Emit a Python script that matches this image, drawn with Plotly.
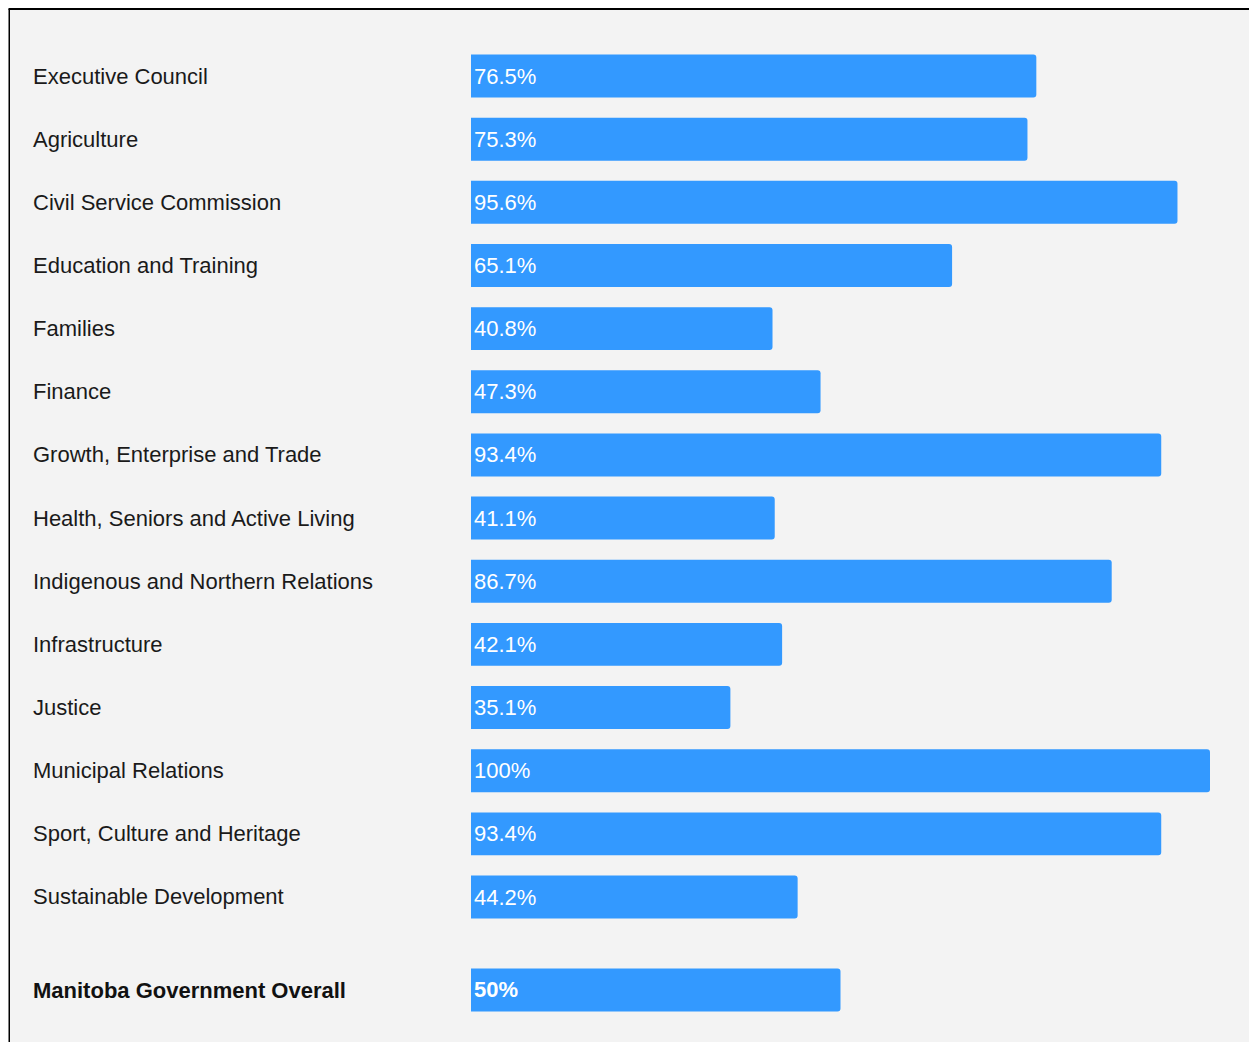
import plotly.graph_objects as go

departments = [
    "Executive Council",
    "Agriculture",
    "Civil Service Commission",
    "Education and Training",
    "Families",
    "Finance",
    "Growth, Enterprise and Trade",
    "Health, Seniors and Active Living",
    "Indigenous and Northern Relations",
    "Infrastructure",
    "Justice",
    "Municipal Relations",
    "Sport, Culture and Heritage",
    "Sustainable Development",
]
dept_values = [76.5, 75.3, 95.6, 65.1, 40.8, 47.3, 93.4, 41.1, 86.7, 42.1, 35.1, 100, 93.4, 44.2]

overall_label = ["Manitoba Government Overall"]
overall_values = [50]

# the page body adds an 8px margin, so the figure is drawn 8px in from the window edge
PAGE = 8
W, H = 1257 - PAGE, 1042 - PAGE
BAR = "#3399ff"
BG = "#f3f3f3"
FONT = "Liberation Sans, Arial, sans-serif"


def px(x):
    return (x - PAGE) / W


def py(y):
    return 1 - (y - PAGE) / H


def fmt(v):
    return f"{v:g}%"


fig = go.Figure()
fig.add_trace(go.Bar(
    x=dept_values, y=departments, orientation="h",
    marker=dict(color=BAR, cornerradius=3, line=dict(width=0)),
    width=0.68,
    text=[fmt(v) for v in dept_values],
    textposition="inside", insidetextanchor="start", textangle=0,
    textfont=dict(color="white", size=22, family=FONT),
    xaxis="x", yaxis="y", hoverinfo="skip",
))
fig.add_trace(go.Bar(
    x=overall_values, y=overall_label, orientation="h",
    marker=dict(color=BAR, cornerradius=3, line=dict(width=0)),
    width=0.68,
    text=["<b>" + fmt(v) + "</b>" for v in overall_values],
    textposition="inside", insidetextanchor="start", textangle=0,
    textfont=dict(color="white", size=22, family=FONT),
    xaxis="x2", yaxis="y2", hoverinfo="skip",
))

xdom = [px(471), px(1210)]
pitch = 63.15
top1 = 76 - pitch / 2
bot1 = 897 + pitch / 2
top2 = 990 - pitch / 2
bot2 = 990 + pitch / 2

axcommon = dict(showgrid=False, zeroline=False, showticklabels=False, showline=False, fixedrange=True)

annotations = []
for name in departments:
    annotations.append(dict(x=px(31), xref="paper", y=name, yref="y", text=name,
                            xanchor="left", yanchor="middle", showarrow=False,
                            font=dict(size=22, color="#1a1a1a", family=FONT)))
for name in overall_label:
    annotations.append(dict(x=px(31), xref="paper", y=name, yref="y2", text="<b>" + name + "</b>",
                            xanchor="left", yanchor="middle", showarrow=False,
                            font=dict(size=22, color="#111111", family=FONT)))

fig.update_layout(
    width=W, height=H,
    margin=dict(l=0, r=0, t=0, b=0),
    paper_bgcolor="white", plot_bgcolor="rgba(0,0,0,0)",
    showlegend=False,
    xaxis=dict(domain=xdom, range=[0, 100], anchor="y", **axcommon),
    yaxis=dict(domain=[py(bot1), py(top1)], range=[13.5, -0.5], autorange=False,
               anchor="x", categoryorder="array", categoryarray=departments, **axcommon),
    xaxis2=dict(domain=xdom, range=[0, 100], anchor="y2", **axcommon),
    yaxis2=dict(domain=[py(bot2), py(top2)], range=[-0.5, 0.5], autorange=False,
                anchor="x2", **axcommon),
    annotations=annotations,
    shapes=[
        dict(type="rect", xref="paper", yref="paper", x0=2 / W, x1=1, y0=0, y1=1 - 2 / H,
             fillcolor=BG, line=dict(width=0), layer="below"),
        dict(type="line", xref="paper", yref="paper", x0=0.5 / W, x1=1, y0=1 - 1 / H, y1=1 - 1 / H,
             line=dict(color="black", width=2), layer="above"),
        dict(type="line", xref="paper", yref="paper", x0=1.25 / W, x1=1.25 / W, y0=0, y1=1 - 1 / H,
             line=dict(color="black", width=1.5), layer="above"),
    ],
)

fig.write_html("out.html", config={"displayModeBar": False})
